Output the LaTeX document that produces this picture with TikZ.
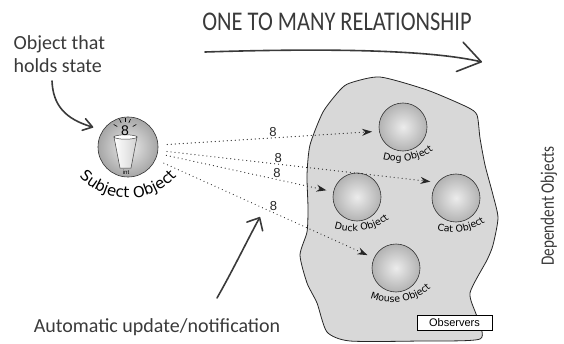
\documentclass[tikz,border=0pt]{standalone}
\usepackage{fontspec}
\setmainfont{Liberation Sans}
\newfontfamily\handfont{Carlito}
\newfontfamily\titlefont[FakeStretch=0.83]{Carlito}
\newfontfamily\narrowfont[FakeStretch=0.8]{Carlito}
\newfontfamily\comicfont{DejaVu Sans}
\newcommand{\objfont}{\comicfont\fontsize{9.5}{10}\selectfont}
\newcommand{\subjfont}{\comicfont\fontsize{15}{15}\selectfont}
\usepackage{tikz}
\usetikzlibrary{arrows.meta}
\usetikzlibrary{decorations.text}
\definecolor{stift}{HTML}{3A3A3A}
\definecolor{blobgrau}{HTML}{D8D8D8}
\tikzset{
  Kugel/.style={circle,draw=gray!40!black,line width=.6pt,inner sep=0pt,
    minimum size=48pt,inner color=gray!15,outer color=gray!60}, % Objekte
  Wolke/.style={fill=blobgrau,draw=gray!30!black,line width=.8pt}, % Observer-Bereich
  HPfeil/.style 2 args={stift,line width=1.6pt,line cap=round,
    -{Straight Barb[length=#1,width=#2,round]}}, % Handpfeile
  NPfeil/.style={gray!30!black,line width=1.2pt,dash pattern=on 0.01pt off 4pt,
    line cap=round,shorten <=9pt,shorten >=7pt,-{Stealth[length=10pt,width=7pt]}}, % Benachrichtigung
  Acht/.style={font=\fontsize{13}{13}\selectfont,inner sep=1pt,above},
  Hand/.style={stift,font=\handfont\fontsize{20}{23}\selectfont},
  Obs/.style={draw=black,fill=white,line width=.6pt,minimum width=75pt,
    minimum height=15pt,inner sep=1pt,font=\fontsize{11}{11}\selectfont},
  Beschriftung/.style={decorate,decoration={text along path,text align=center,text={#1}}}
}
\begin{document}
\begin{tikzpicture}[x=1pt,y=1pt]
\useasboundingbox (0,0) rectangle (564,343);

%Observer-Bereich
\draw[Wolke] plot[smooth cycle,tension=.4] coordinates {
  (300,88) (307,60) (317,40) (327,11) (350,2) (420,2) (480,4) (477,26)
  (470,50) (487,83) (493,98) (498,125) (493,148) (485,178) (480,205)
  (477,228) (467,236) (427,253) (380,266) (350,260) (340,253) (323,231)
  (310,198) (307,168) (308,135) (307,111)};

%Objekte
\node[Kugel,minimum size=60pt,outer color=gray!70] (subj) at (128,196) {};
\node[Kugel] (dog) at (403,216) {};
\node[Kugel] (duck) at (357,146) {};
\node[Kugel] (cat) at (456,145) {};
\node[Kugel] (mouse) at (396,75) {};

%Becher im Subjekt
\draw[draw=gray!50!black,line width=.5pt,left color=white,right color=gray!35]
  ([shift={(-14,10)}]subj.center) -- ([shift={(9,10)}]subj.center)
  -- ([shift={(3,-21)}]subj.center) -- ([shift={(-8,-21)}]subj.center) -- cycle;
\draw[gray!50!black,line width=.5pt,fill=white] ([shift={(-2.5,10)}]subj.center) ellipse [x radius=11.5,y radius=2.2];
\node[font=\fontsize{14}{14}\selectfont,inner sep=0pt] (wert) at ([shift={(-3,16)}]subj.center) {8};
\draw[black,line width=.6pt] (wert) ++(30:9) -- ++(30:4);
\draw[black,line width=.6pt] (wert) ++(65:9) -- ++(65:4);
\draw[black,line width=.6pt] (wert) ++(90:9) -- ++(90:4);
\draw[black,line width=.6pt] (wert) ++(115:9) -- ++(115:4);
\draw[black,line width=.6pt] (wert) ++(150:9) -- ++(150:4);
\node[font=\fontsize{6}{6}\selectfont,inner sep=0pt] (typ) at ([shift={(-2,-25)}]subj.center) {int};

%Beschriftungen der Objekte
\path[Beschriftung={|\subjfont|Subject Object}] ([shift={(0,15)}]subj.center) ++(205:66pt) arc[start angle=205,end angle=335,radius=66pt];
\path[Beschriftung={|\objfont|Dog Object}] ([shift={(100:26pt)}]dog.center) ++(-125:60pt) arc[start angle=-125,end angle=-35,radius=60pt];
\path[Beschriftung={|\objfont|Duck Object}] ([shift={(100:26pt)}]duck.center) ++(-125:60pt) arc[start angle=-125,end angle=-35,radius=60pt];
\path[Beschriftung={|\objfont|Cat Object}] ([shift={(100:26pt)}]cat.center) ++(-125:60pt) arc[start angle=-125,end angle=-35,radius=60pt];
\path[Beschriftung={|\objfont|Mouse Object}] ([shift={(100:26pt)}]mouse.center) ++(-125:60pt) arc[start angle=-125,end angle=-35,radius=60pt];

%Benachrichtigungen
\draw[NPfeil] (subj) -- node[Acht,pos=.52]{8} (dog.190);
\draw[NPfeil] (subj) -- node[Acht,pos=.43]{8} (cat.140);
\draw[NPfeil] (subj) -- node[Acht,pos=.68]{8} (duck);
\draw[NPfeil] (subj) -- node[Acht,pos=.54]{8} (mouse);

%Texte
\node[Hand,font=\titlefont\fontsize{27}{27}\selectfont] (title) at (337,321) {ONE TO MANY RELATIONSHIP};
\node[Hand,align=left,anchor=west] (statenote) at (10,289) {Object that\\holds state};
\node[Hand,font=\narrowfont\fontsize{19}{19}\selectfont,rotate=90] (depnote) at (549,137) {Dependent Objects};
\node[Hand] (autonote) at (157,16) {Automatic update/notification};
\node[Obs] (observers) at (454.5,20.5) {Observers};

%Handpfeile
\coordinate (relstart) at (205,291);
\coordinate (relend) at (482,281);
\draw[HPfeil={22pt}{30pt}] (relstart) .. controls (330,295) and (430,293) .. (relend);
\coordinate (statefrom) at (52,262);
\draw[HPfeil={9pt}{12pt},shorten >=10pt] (statefrom) .. controls (53,238) and (65,224) .. (subj.146);
\coordinate (autofrom) at (217,45);
\coordinate (autoto) at (260,126);
\draw[HPfeil={10pt}{18pt}] (autofrom) .. controls (233,73) and (250,108) .. (autoto);

\end{tikzpicture}
\end{document}
